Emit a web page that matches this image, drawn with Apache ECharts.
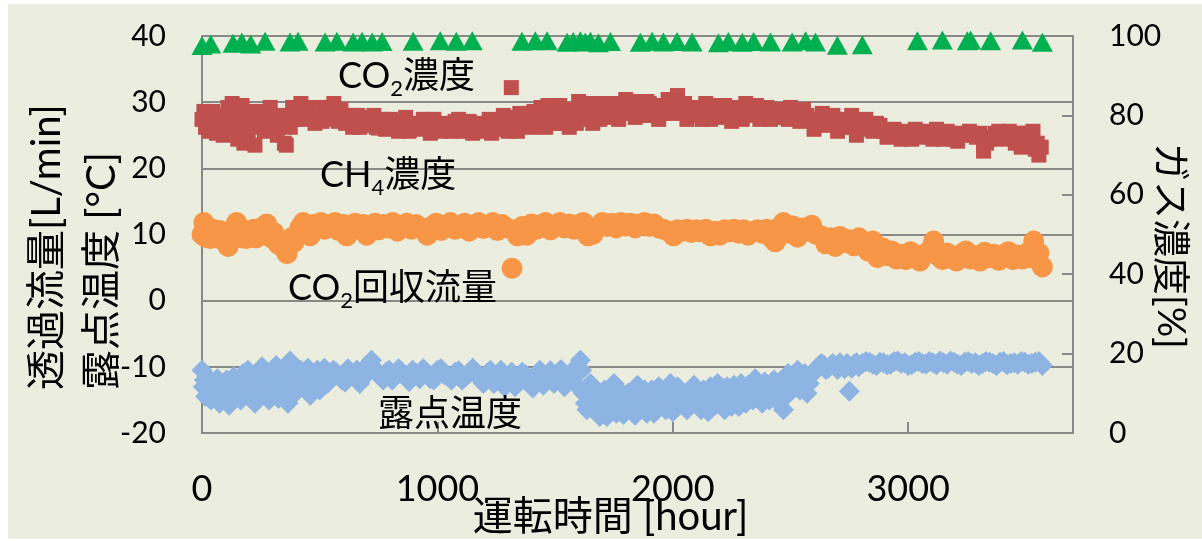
<!DOCTYPE html>
<html>
<head>
<meta charset="utf-8">
<script src="https://cdn.jsdelivr.net/npm/echarts@6/dist/echarts.min.js"></script>
<style>
html,body{margin:0;padding:0;background:#ffffff;width:1202px;height:541px;overflow:hidden}
#chart{position:absolute;left:8px;top:4px;width:1194px;height:535px;background:#EBEEDF}
</style>
</head>
<body>
<div id="chart"></div>
<script>
// ---- Data (hour, value) ----
// CO2 concentration [%] (right axis)
const co2Conc = [
[0,97.6],[37,98],[132,98.2],[169,98.5],[207,98],[268,98.7],[374,98.5],[408,98.7],[523,98.5],[573,98.7],
[642,98.5],[680,98.7],[723,98.5],[765,98.6],[897,98.7],[1012,98.8],[1080,98.7],[1148,98.8],[1359,98.7],[1416,98.8],
[1466,98.8],[1551,98.4],[1577,98.6],[1607,98.8],[1628,98.5],[1650,98.7],[1684,98.3],[1735,98.6],[1862,98.4],[1912,98.7],
[1960,98.5],[2018,98.6],[2082,98.5],[2194,98.3],[2236,98.6],[2295,98.4],[2343,98.6],[2415,98.5],[2507,98.5],[2564,98.8],
[2606,98.5],[2699,97.7],[2805,97.8],[3039,98.8],[3145,99],[3251,98.8],[3265,99],[3350,98.8],[3485,99],[3570,98.4]
];
// CH4 concentration [%] (right axis)
const ch4Conc = [
[0,79],[8,81],[15,77],[22,80],[30,76],[38,78],[45,81],[55,79],[62,75.5],[70,77],[80,80],[90,75],[100,78],[110,82],[120,79],
[128,83],[135,77],[145,80],[152,74],[160,76],[170,82.5],[178,73],[188,79],[196,75],[205,81],[215,77],[225,72.5],[235,80],
[245,78],[255,81],[265,76],[275,79],[290,82],[300,77],[310,80],[320,75],[330,79],[340,78],[350,73],[358,72.5],[365,80],
[375,77],[385,82],[395,79],
[400,80],[410,81.5],[420,83],[430,79.5],[440,79],[450,82],[460,81],[470,80],[480,78],[490,80.5],[500,82],[510,78.5],
[520,80],[530,82],[540,79],[550,81],[560,83],[570,80],[580,78.5],[590,81.5],[600,80],
[610,78],[620,79],[630,80],[640,77],[650,78.5],[660,80],[670,77],[680,78],[690,79.5],[700,77.5],[710,78],[720,79.5],
[730,80],[740,77],[750,76.8],[760,78.5],[770,79],[780,76.5],[790,77.5],[800,79],
[820,77],[835,76],[850,78.5],[865,79.5],[880,76],[895,78],[910,77.5],[925,76.5],[940,79],[955,77.5],[970,75.5],[985,79],
[1000,77],[1015,76],[1030,78],[1045,76.8],[1060,76],[1075,78.5],[1090,79],[1105,76],[1120,77],[1135,78.5],[1150,75.5],
[1165,77],[1180,78],[1195,76],
[1210,77],[1220,79],[1230,75.5],[1240,77],[1250,78],[1265,76.5],[1280,80],[1290,78],[1300,76],[1314,87],[1320,79.5],
[1330,77.5],[1340,76],[1350,80.5],[1360,78],[1370,79],[1385,80.5],[1400,77],
[1410,81],[1420,79],[1430,78],[1440,82],[1450,80],[1460,77],[1470,82.5],[1480,80.5],[1490,79],[1500,78],[1510,80.5],
[1520,82.5],[1530,78],[1540,80],[1550,81.5],[1560,77],[1570,79.5],[1580,81],[1590,78],[1600,83.5],[1610,81],[1620,79],
[1630,80],[1640,82],[1650,83],[1660,78],[1670,81.5],[1680,80.5],[1690,79],[1700,83],
[1710,79.5],[1720,81],[1730,82],[1740,83],[1750,81.5],[1760,80],[1770,79],[1780,82],[1790,80.5],[1800,84],[1810,82.5],
[1820,81],[1830,83.5],[1840,79.5],[1850,80.5],[1860,82.5],[1870,81.5],[1880,80],[1890,83.5],[1900,83],[1910,80],
[1920,81],[1930,82.5],[1940,79],[1950,80.5],[1960,82],[1970,81],[1980,84],[1990,82],[2000,80.5],[2010,83],[2020,85],
[2030,82.5],[2040,81],
[2050,83],[2060,79],[2070,80.5],[2080,82],[2095,81.5],[2110,80],[2125,79],[2140,83],[2150,81],[2160,79],[2175,82.5],
[2190,81],[2205,79.5],[2220,82.5],[2235,80.5],[2250,78.5],[2265,82],[2280,80],[2295,79],[2310,83],[2325,80],[2340,81],
[2355,82.5],[2370,79],[2385,80.5],[2400,82],[2415,79],[2430,80],
[2445,79.5],[2460,81.5],[2475,80],[2490,79],[2500,82],[2510,80.5],[2525,80],[2540,78.5],[2555,81.5],[2570,80],[2585,79],
[2600,76.5],[2610,78],[2620,79],[2635,80.5],[2650,77.5],[2665,78.5],[2680,80],[2690,79],[2700,76],[2715,77],[2730,78],
[2745,79],[2760,80],[2770,77],[2780,75],[2790,76.5],[2800,78],
[2810,77],[2820,79],[2835,77.5],[2850,76],[2865,78],[2880,77.5],[2895,76],[2910,74.5],[2925,75.5],[2940,76.5],[2955,75],
[2970,74],[2985,76],[3000,75.5],[3015,74],[3030,76.5],[3045,75.5],[3060,74.5],[3075,76],[3090,75],[3105,74],[3120,76.5],
[3135,75],[3150,74],[3165,76],[3180,75.5],[3195,74],[3210,73.5],[3225,75.5],[3240,75],
[3260,76],[3275,75],[3290,74.5],[3305,75.5],[3320,71],[3333,73],[3345,74],
[3358,74.5],[3370,75.5],[3385,76],[3400,74],[3415,75],[3430,76],[3443,74.5],[3455,73],[3468,75.5],[3480,72],
[3490,73.5],[3500,75.5],[3510,72.5],[3520,74],[3530,76],[3540,71.5],[3548,73],[3555,70],[3565,72]
];
// CO2 recovery flow [L/min] (left axis)
const co2Flow = [
[0,10],[8,11.8],[15,9.6],[25,10.5],[35,9.4],[45,10.8],[55,10],[65,9.5],[75,10.6],[85,9.8],[95,9],[111,8.2],[120,10],
[130,10.8],[147,11.8],[160,10.2],[170,9.5],[180,10.6],[190,9.4],[200,10.5],[210,9.8],[220,10.8],[230,9.5],[240,10.2],
[250,11],[262,10.3],[275,11.6],[285,10],[295,9.5],[305,10.3],[315,9.2],[325,8.5],[340,9],[350,7.8],[361,7.1],[370,8.5],
[380,9.5],[390,8.8],[400,9.8],
[415,11],[430,11.8],[445,10.5],[459,9.8],[475,11.5],[490,11],[505,11.8],[520,10.8],[535,11.5],[550,11.2],[565,11.8],
[580,10.6],[600,11.5],[615,9.8],[630,11.2],[650,11.7],[665,10.8],[685,11.5],[700,9.9],[715,11],[735,11.7],[750,10.7],
[770,11.5],[790,11],[810,11.8],[830,10.5],[850,11.3],[870,11.7],[890,10.8],[910,11.5],[930,11],[957,9.9],[975,11.2],
[995,11.7],[1015,10.6],[1035,11.4],[1055,11.8],[1075,10.8],[1095,11.3],[1115,11.7],[1135,10.5],[1155,11.2],[1175,11.8],
[1195,10.9],
[1215,11.3],[1235,11.8],[1255,10.6],[1275,11.5],[1295,11],[1317,4.9],[1340,9.8],[1360,11.2],[1380,9.9],[1400,11.6],
[1420,10.8],[1440,11.5],[1460,11.8],[1480,10.7],[1500,11.3],[1520,11.8],[1540,11],[1560,11.6],[1580,10.8],[1600,11.5],
[1620,11.8],[1640,9.8],[1660,10],[1680,11.2],
[1700,11.8],[1720,11.2],[1740,11.7],[1760,11],[1780,11.8],[1800,11.3],[1820,11.7],[1840,11],[1860,11.6],[1880,11.8],
[1900,11.2],[1920,11.6],[1940,11],
[1960,10.8],[1980,10.5],[2003,9.8],[2020,10.7],[2040,10.5],[2060,10.8],[2080,10.3],[2100,10.7],[2120,10.4],[2140,10.8],
[2160,9.8],[2180,10.5],[2200,9.9],[2220,10.7],[2240,10.4],[2260,10.8],[2280,10.2],[2300,10.7],[2320,9.9],[2340,10.5],
[2360,10.7],[2380,10.2],[2400,10.8],[2420,9.5],[2435,8.9],
[2450,11],[2470,11.8],[2490,10.2],[2510,11.3],[2530,9.6],[2550,11],[2570,10.5],[2590,11.4],[2610,10],
[2630,9.8],[2650,8.6],[2670,9.5],[2690,8.2],[2710,9.7],[2730,8.8],[2750,9.2],[2770,8.3],[2790,9.5],
[2810,8.5],[2830,7.5],[2850,9],[2870,6.5],[2890,8],[2910,6.8],[2930,7.5],[2950,6.3],
[2970,7],[2990,6.2],[3010,7.4],[3030,6.5],[3050,6],[3070,7],[3090,7.6],[3108,9],[3125,6.8],[3145,6.2],[3165,7.2],
[3185,6.4],[3205,6],[3225,7],[3245,7.5],[3265,6.3],[3285,6.8],[3305,6],[3325,7.3],[3345,6.5],[3365,7],[3385,6.1],
[3405,6.8],[3425,7.4],[3445,6.2],[3465,6.9],[3485,6.3],[3505,7.2],[3520,6.5],[3533,9],[3555,7.2],[3570,5.1]
];
// Dew point [°C] (left axis)
const dewPoint = [
[0,-10.5],[5,-13],[10,-12],[15,-14.5],[22,-11.5],[30,-13.5],[38,-15],[45,-12.5],[55,-14],[65,-11.8],[75,-15.5],[85,-13],
[95,-14.5],[105,-12],[115,-15.8],[125,-13.5],[135,-11.5],[145,-14],[155,-12.5],[165,-15],[175,-11],[185,-13.5],[195,-10.5],
[205,-14.5],[215,-12],[225,-15.5],[235,-11.5],[245,-13],[255,-10],[265,-14],[275,-12],[285,-15],[295,-11],[305,-13.5],
[315,-9.8],[325,-14.8],[335,-12.5],[345,-10.5],[355,-13],[365,-15.5],[374,-9.1],[385,-12],[395,-14],[405,-11],
[420,-10.5],[430,-11.5],[440,-12.5],[450,-10.2],[460,-14.3],[470,-12],[480,-11],[490,-10.5],[500,-13.5],[510,-11.8],
[520,-10.2],[532,-12.5],[545,-11.5],[558,-10.5],[570,-10.8],[582,-11.3],[595,-12],[608,-12.3],[620,-10.3],[632,-10.8],
[645,-11.2],[658,-10.5],[670,-12.5],[682,-11.5],[695,-10],[708,-10.8],[720,-9],[732,-10.2],[745,-11],[758,-11.5],
[770,-12],[782,-10.8],[795,-10.5],[808,-12],[820,-11.5],[835,-10.3],[850,-10.8],[865,-11.3],[880,-12.2],[895,-10.5],
[910,-11],[925,-11.8],[940,-10.3],[955,-11],[970,-11.8],[985,-12],[1000,-10.5],[1015,-10.3],[1030,-11.2],[1045,-11.5],
[1060,-12],[1075,-10.8],[1090,-10.6],[1105,-12],[1120,-11.5],[1135,-11],[1150,-10.2],[1165,-10.8],[1180,-11.8],[1195,-12.5],
[1210,-11],[1225,-10.5],[1240,-12.5],[1255,-11.5],[1270,-10.5],[1285,-13],[1300,-11.8],[1315,-10.8],[1330,-13],[1345,-12],
[1360,-10.8],[1375,-11.2],[1390,-12],[1405,-13.2],[1420,-11.2],[1435,-10.5],[1450,-12.8],[1465,-11.8],[1480,-10.6],
[1495,-12.5],[1510,-11.5],[1525,-10.4],[1540,-13],[1553,-12],[1565,-11],
[1578,-11],[1590,-10],[1597,-13],[1607,-9],[1613,-10.5],[1620,-14],[1628,-15.5],[1635,-16.5],[1642,-14],[1650,-12.5],
[1660,-13],[1670,-15],[1680,-16],[1690,-17.5],[1700,-15],[1710,-13.5],[1720,-17.5],[1730,-16],[1740,-14.5],[1750,-12.5],
[1760,-17],[1770,-15.5],[1780,-13.8],[1790,-17.2],[1800,-16],[1810,-14],[1820,-15],[1830,-16.5],[1840,-17.3],[1850,-12.8],
[1860,-14.5],[1870,-15],[1880,-13.5],[1890,-17],[1900,-15.5],[1910,-13.5],[1920,-17],[1930,-15.8],[1940,-13],[1950,-14.2],
[1960,-15],[1970,-16.5],[1980,-14],[1990,-12.5],[2000,-16.8],[2010,-15],[2020,-13],[2030,-13.5],[2040,-14.8],[2050,-16],
[2060,-16.5],[2070,-14.5],[2080,-13.8],[2090,-12.8],[2100,-14],[2110,-15.5],[2120,-16.5],[2130,-13.5],[2140,-15],
[2150,-16.8],[2160,-13],[2170,-14],[2180,-15.8],[2190,-12.5],[2200,-14],[2210,-15],[2220,-16.5],[2230,-13],[2240,-14.5],
[2250,-16],[2260,-12.8],[2270,-14.5],[2280,-16],[2290,-12.5],[2300,-14],[2310,-15.5],[2320,-12.8],[2330,-13.5],[2340,-15],
[2350,-11.8],[2360,-13],[2370,-14],[2380,-15.5],[2390,-12.3],[2400,-13.5],[2410,-15],
[2420,-13],[2430,-12],[2440,-15],[2450,-14],[2460,-12.5],[2470,-16.5],[2480,-14.5],[2490,-11],[2500,-12],[2510,-13],
[2520,-11.5],[2530,-10.5],[2540,-13.5],[2550,-12.5],[2560,-11],[2570,-14],[2580,-12.5],[2590,-11.2],[2600,-10.8],
[2610,-10.2],[2620,-10],[2630,-9.5],[2640,-9.7],[2650,-10.4],[2660,-10.2],[2670,-9.8],[2680,-9.5],[2690,-10],[2700,-10.4],
[2710,-9.4],[2720,-9.8],[2730,-10.3],[2740,-9.5],[2750,-13.7],[2760,-10.2],[2770,-9.6],[2780,-9.4],[2790,-10],
[2805,-9.5],[2820,-9.2],[2835,-9.3],[2850,-9.6],[2865,-9.8],[2880,-9.3],[2895,-9.4],[2910,-9.7],[2925,-9.6],[2940,-9.2],
[2955,-9.1],[2970,-9.5],[2985,-9.4],[3000,-9.8],[3015,-9.7],[3030,-9.3],[3045,-9.2],[3060,-9.5],[3075,-9.6],[3090,-9.2],
[3105,-9.4],[3120,-9.7],[3135,-9.1],[3150,-9.4],[3165,-9.6],[3180,-9.1],[3195,-9.3],[3210,-9.6],[3225,-9.8],[3240,-9.3],
[3255,-9.2],[3270,-9.5],[3285,-9.4],[3300,-9.8],[3315,-9.5],[3330,-9.2],[3345,-9.3],[3360,-9.5],[3375,-9.8],[3390,-9.3],
[3405,-9.2],[3420,-9.7],[3435,-9.5],[3450,-9.4],[3465,-9.6],[3480,-9.2],[3495,-9.3],[3510,-9.6],[3525,-9.5],[3540,-9.3],
[3555,-9.2],[3570,-9.8]
];
// Axis ranges / ticks
const xRange = [0, 3700], xStep = 1000;
const yLeftRange = [-20, 40], yLeftStep = 10;
const yRightRange = [0, 100], yRightStep = 20;
// Texts
const xTitle = '運転時間 [hour]';
const yLeftTitle = ['透過流量[L/min]', '露点温度 [°C]'];
const yRightTitle = 'ガス濃度[%]';
const seriesNames = ['CO2濃度', 'CH4濃度', 'CO2回収流量', '露点温度'];

const FONT = 'Lato, "Noto Sans CJK JP", sans-serif';
const GRAY = '#898989';

const chart = echarts.init(document.getElementById('chart'), null, {renderer: 'canvas'});

const sub = {fontSize: 22, lineHeight: 22, padding: [26, 0, 0, 0], fontFamily: FONT, fill: '#000'};
const main = {fontSize: 36, lineHeight: 36, fontFamily: FONT, fill: '#000'};
function label(x, y, rich) {
  return {type: 'text', x: x, y: y, z: 100,
    style: {text: rich, rich: {a: main, s: sub}, align: 'left', verticalAlign: 'middle', fill: '#000'}};
}

chart.setOption({
  animation: false,
  backgroundColor: 'transparent',
  grid: {left: 194, top: 32, width: 871, height: 397, containLabel: false, outerBoundsMode: 'none'},
  xAxis: {
    type: 'value', min: xRange[0], max: xRange[1], interval: xStep,
    axisLine: {show: true, onZero: false, lineStyle: {color: GRAY, width: 2}},
    axisTick: {show: true, inside: true, length: 11, lineStyle: {color: GRAY, width: 2}},
    splitLine: {show: false},
    axisLabel: {fontSize: 36, color: '#000', fontFamily: FONT, margin: 38, showMaxLabel: false,
                formatter: function (v) { return String(v); }},
    name: xTitle, nameLocation: 'middle', nameGap: 64, nameMoveOverlap: false,
    nameTextStyle: {fontSize: 40, color: '#000', fontFamily: FONT, padding: [0, 54, 0, 0]}
  },
  yAxis: [{
    type: 'value', min: yLeftRange[0], max: yLeftRange[1], interval: yLeftStep, position: 'left',
    axisLine: {show: true, onZero: false, lineStyle: {color: GRAY, width: 2}},
    axisTick: {show: false},
    splitLine: {show: true, lineStyle: {color: GRAY, width: 2}},
    axisLabel: {fontSize: 30, color: '#000', fontFamily: FONT, margin: 36}
  }, {
    type: 'value', min: yRightRange[0], max: yRightRange[1], interval: yRightStep, position: 'right',
    axisLine: {show: true, onZero: false, lineStyle: {color: GRAY, width: 2}},
    axisTick: {show: true, inside: true, length: 11, lineStyle: {color: GRAY, width: 2}},
    splitLine: {show: false},
    axisLabel: {fontSize: 30, color: '#000', fontFamily: FONT, margin: 36}
  }],
  series: [
    {type: 'scatter', name: seriesNames[2], yAxisIndex: 0, data: co2Flow, symbol: 'circle', symbolSize: 21,
     clip: false, itemStyle: {color: '#F79646', opacity: 1}, emphasis: {disabled: true}},
    {type: 'scatter', name: seriesNames[3], yAxisIndex: 0, data: dewPoint, symbol: 'diamond', symbolSize: [21, 21],
     clip: false, itemStyle: {color: '#8DB4E2', opacity: 1}, emphasis: {disabled: true}},
    {type: 'scatter', name: seriesNames[1], yAxisIndex: 1, data: ch4Conc, symbol: 'rect', symbolSize: 15,
     clip: false, itemStyle: {color: '#C0504D', opacity: 1}, emphasis: {disabled: true}},
    {type: 'scatter', name: seriesNames[0], yAxisIndex: 1, data: co2Conc, symbol: 'triangle', symbolSize: [21, 19],
     clip: false, itemStyle: {color: '#00B050', opacity: 1}, emphasis: {disabled: true}}
  ],
  graphic: [
    label(330, 72, '{a|CO}{s|2}{a|濃度}'),
    label(312, 171, '{a|CH}{s|4}{a|濃度}'),
    label(280, 284, '{a|CO}{s|2}{a|回収流量}'),
    label(370, 410, '{a|露点温度}'),
    {type: 'text', x: 39, y: 386, rotation: Math.PI / 2,
     style: {text: yLeftTitle[0], fontSize: 40, fontFamily: FONT, fill: '#000', align: 'left', verticalAlign: 'middle'}},
    {type: 'text', x: 94, y: 386, rotation: Math.PI / 2,
     style: {text: yLeftTitle[1], fontSize: 40, fontFamily: FONT, fill: '#000', align: 'left', verticalAlign: 'middle'}},
    {type: 'text', x: 1162, y: 139, rotation: -Math.PI / 2,
     style: {text: yRightTitle, fontSize: 38, fontFamily: FONT, fill: '#000', align: 'left', verticalAlign: 'middle'}}
  ]
});
</script>
</body>
</html>
